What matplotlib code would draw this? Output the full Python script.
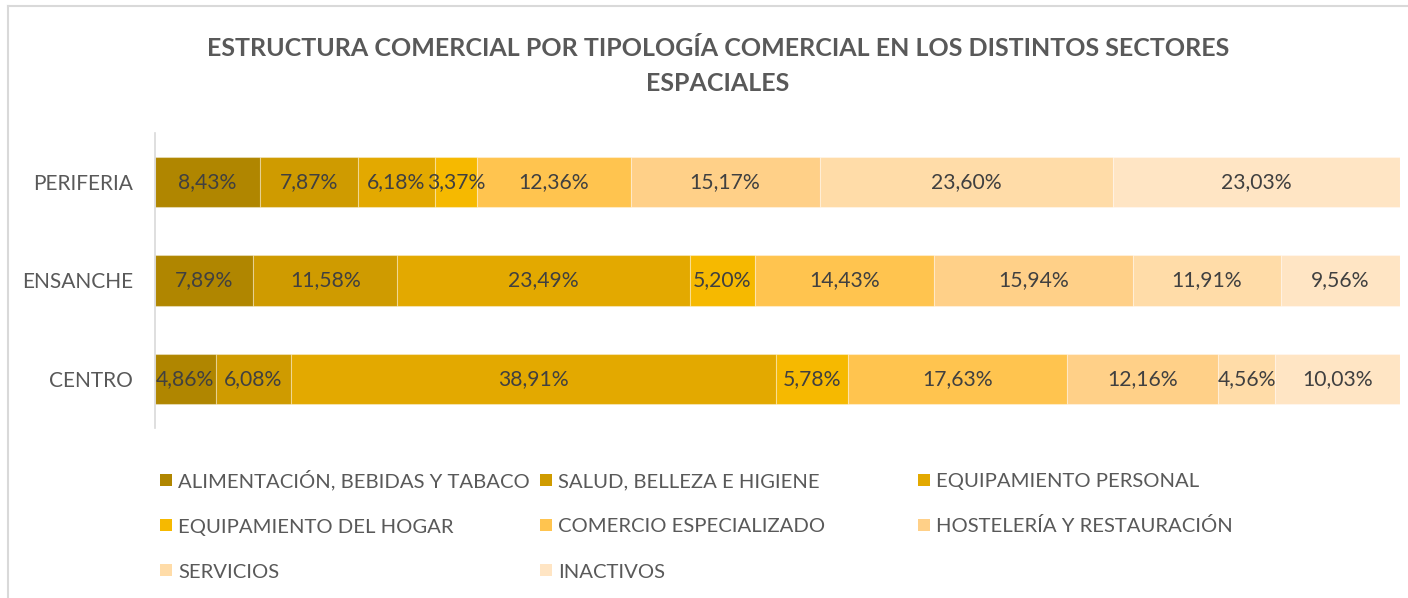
import matplotlib
matplotlib.use("Agg")
import matplotlib.pyplot as plt
from matplotlib.lines import Line2D
from matplotlib.patches import Rectangle

plt.rcParams['font.family'] = ['Lato', 'DejaVu Sans']

sectors = ["CENTRO", "ENSANCHE", "PERIFERIA"]
categories = [
    "ALIMENTACIÓN, BEBIDAS Y TABACO",
    "SALUD, BELLEZA E HIGIENE",
    "EQUIPAMIENTO PERSONAL",
    "EQUIPAMIENTO DEL HOGAR",
    "COMERCIO ESPECIALIZADO",
    "HOSTELERÍA Y RESTAURACIÓN",
    "SERVICIOS",
    "INACTIVOS",
]
# share (%) of each category per sector, ordered CENTRO, ENSANCHE, PERIFERIA
alimentacion = [4.86, 7.89, 8.43]
salud = [6.08, 11.58, 7.87]
equip_personal = [38.91, 23.49, 6.18]
equip_hogar = [5.78, 5.20, 3.37]
comercio_esp = [17.63, 14.43, 12.36]
hosteleria = [12.16, 15.94, 15.17]
servicios = [4.56, 11.91, 23.60]
inactivos = [10.03, 9.56, 23.03]

series = [alimentacion, salud, equip_personal, equip_hogar,
          comercio_esp, hosteleria, servicios, inactivos]
colors = ["#B08600", "#CF9B00", "#E3A900", "#F6B900",
          "#FFC44F", "#FFD088", "#FFDCA8", "#FFE5C4"]

W, H = 1408, 598
fig = plt.figure(figsize=(W / 100, H / 100), dpi=100)
ax = fig.add_axes([155 / W, 1 - 428 / H, 1245 / W, 295 / H])

left = [0.0] * len(sectors)
for name, vals, col in zip(categories, series, colors):
    bc = ax.barh(sectors, vals, left=left, height=0.51, color=col,
                 edgecolor=(1, 1, 1, 0.35), linewidth=0.8, label=name)
    labels = [f"{v:.2f}".replace(".", ",") + "%" for v in vals]
    ax.bar_label(bc, labels=labels, label_type="center",
                 fontsize=15.2, color="#404040")
    left = [a + b for a, b in zip(left, vals)]

ax.set_xlim(0, 100)
ax.set_ylim(-0.5, 2.5)
ax.xaxis.set_visible(False)
for s in ("top", "right", "bottom"):
    ax.spines[s].set_visible(False)
ax.spines["left"].set_color("#D9D9D9")
ax.spines["left"].set_linewidth(1.2)
ax.tick_params(axis="y", length=0, pad=16, labelsize=15, labelcolor="#595959")

fig.text(0.51, 1 - 66 / H,
         "ESTRUCTURA COMERCIAL POR TIPOLOGÍA COMERCIAL EN LOS DISTINTOS SECTORES\nESPACIALES",
         ha="center", va="center", fontsize=18, fontweight="bold",
         color="#595959", linespacing=1.62)

# legend: fixed-width columns filled row by row
col_x = [160, 540, 918]
row_y = [480, 525, 570]
sq = 12
for i, (name, col) in enumerate(zip(categories, colors)):
    r, c = divmod(i, 3)
    x0, yc = col_x[c], row_y[r]
    fig.add_artist(Rectangle((x0 / W, 1 - (yc + sq / 2) / H), sq / W, sq / H,
                             transform=fig.transFigure, facecolor=col,
                             edgecolor="none"))
    fig.text((x0 + sq + 6) / W, 1 - (yc + 7.5) / H, name, ha="left",
             va="baseline", fontsize=14.6, color="#595959")

# chart area border
fig.add_artist(Line2D([8 / W, 8 / W], [0, 1 - 6 / H],
                      transform=fig.transFigure, color="#D9D9D9", linewidth=1.5))
fig.add_artist(Line2D([8 / W, 1], [1 - 6 / H, 1 - 6 / H],
                      transform=fig.transFigure, color="#D9D9D9", linewidth=1.5))

fig.savefig("out.png", dpi=100, facecolor="white")
